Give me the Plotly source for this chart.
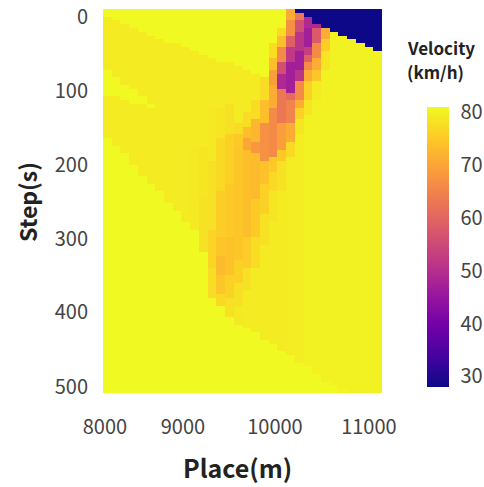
import numpy as np
import plotly.graph_objects as go

# Each column: (end_step, velocity) runs, top to bottom. Steps run 0..500 every 5 s; places 8000..11100 every 100 m.
steps = list(range(0, 505, 5))
places = list(range(8000, 11200, 100))

col_00 = [(10, 81), (78, 79.3), (113, 81), (170, 79.3), (600, 81)]
col_01 = [(15, 81), (88, 79.3), (115, 81), (180, 79.3), (600, 81)]
col_02 = [(20, 81), (98, 79.3), (118, 81), (190, 79.3), (600, 81)]
col_03 = [(25, 81), (105, 79.3), (122, 81), (205, 79.3), (600, 81)]
col_04 = [(28, 81), (115, 79.3), (125, 81), (220, 79.3), (600, 81)]
col_05 = [(32, 81), (125, 79.3), (130, 81), (230, 79.3), (600, 81)]
col_06 = [(37, 81), (240, 79.3), (600, 81)]
col_07 = [(41, 81), (255, 79.3), (600, 81)]
col_08 = [(45, 81), (265, 79.3), (600, 81)]
col_09 = [(50, 81), (280, 79.2), (600, 81)]
col_10 = [(55, 81), (180, 79.3), (290, 79), (600, 81)]
col_11 = [(58, 81), (180, 79.3), (250, 78.5), (317, 78), (600, 81)]
col_12 = [(62, 81), (130, 79.3), (200, 79), (290, 78), (340, 76.5), (376, 77.5), (600, 81)]
col_13 = [(66, 81), (130, 79.3), (170, 78.5), (240, 77), (300, 75.5), (325, 74.5), (350, 73), (375, 74.5), (390, 77), (600, 81)]
col_14 = [(68, 81), (125, 79.3), (165, 78), (230, 76), (300, 75), (350, 74), (380, 76), (403, 78), (600, 81)]
col_15 = [(72, 81), (150, 79.3), (165, 77.5), (180, 75), (260, 74.5), (330, 74.5), (360, 76), (390, 78), (412, 79), (600, 81)]
col_16 = [(76, 81), (135, 79.3), (155, 77.5), (170, 73.5), (185, 70), (300, 73.5), (340, 75.5), (370, 78), (418, 79.3), (600, 81)]
col_17 = [(82, 81), (120, 79.3), (145, 77.5), (175, 72.5), (190, 68), (250, 73), (300, 75), (340, 77.5), (425, 79.3), (600, 81)]
col_18 = [(90, 81), (120, 77.5), (150, 73.5), (197, 67), (230, 74), (270, 76), (310, 78), (433, 79.3), (600, 81)]
col_19 = [(42, 81), (62, 77.5), (80, 73.5), (96, 69), (130, 71), (195, 66), (215, 75), (240, 77), (280, 78.5), (440, 79.3), (600, 81)]
col_20 = [(25, 81), (35, 77.5), (50, 73.5), (68, 66), (85, 56), (103, 49), (150, 63), (181, 69), (200, 75), (240, 78), (446, 79.3), (600, 81)]
col_21 = [(15, 71), (32, 67), (50, 59), (68, 52), (108, 47), (120, 61), (150, 65), (172, 71), (195, 77), (453, 79.3), (600, 81)]
col_22 = [(5, 28), (15, 63), (28, 56), (55, 51), (76, 47), (95, 51), (118, 66), (130, 71), (145, 76), (165, 78.5), (462, 79.5), (600, 81)]
col_23 = [(10, 28), (25, 49), (48, 47), (58, 53), (66, 59), (76, 66), (95, 71), (120, 76), (137, 78.5), (468, 80), (600, 81)]
col_24 = [(20, 28), (25, 49), (45, 58), (62, 66), (76, 71), (95, 74.5), (120, 79.3), (478, 80), (600, 81)]
col_25 = [(25, 28), (40, 71), (55, 75.5), (76, 78.5), (486, 80), (600, 81)]
col_26 = [(30, 28), (495, 80), (600, 81)]
col_27 = [(35, 28), (500, 80), (600, 80.5)]
col_28 = [(40, 28), (600, 80)]
col_29 = [(45, 28), (600, 80)]
col_30 = [(50, 28), (600, 80)]
col_31 = [(55, 28), (600, 80)]

columns = [col_00, col_01, col_02, col_03, col_04, col_05, col_06, col_07,
           col_08, col_09, col_10, col_11, col_12, col_13, col_14, col_15,
           col_16, col_17, col_18, col_19, col_20, col_21, col_22, col_23,
           col_24, col_25, col_26, col_27, col_28, col_29, col_30, col_31]

x_tick_labels = ["8000", "9000", "10000", "11000"]
x_tick_positions = [7972, 8867, 9922, 11000]
y_tick_labels = ["0", "100", "200", "300", "400", "500"]
y_tick_positions = [8, 105, 203, 300, 396, 494]


def expand(runs):
    out = []
    for s in steps:
        out.append(next(v for end, v in runs if s < end))
    return out


z = np.array([expand(c) for c in columns]).T

FONT = "Noto Sans CJK JP"
INK = "#444444"
PLOT_W, PLOT_H = 279, 384

fig = go.Figure(go.Heatmap(
    x=places, y=steps, z=z, zmin=28, zmax=81, colorscale="Plasma",
    zsmooth=False,
    colorbar=dict(
        thickness=22, len=280, lenmode="pixels",
        x=(427 - 103) / PLOT_W, xanchor="left", y=(393 - 107) / PLOT_H, yanchor="top",
        outlinewidth=0, ticks="outside", ticklen=8, tickcolor="rgba(0,0,0,0)", xpad=0, ypad=0,
        tickvals=[30, 40, 50, 60, 70, 80],
        tickfont=dict(family=FONT, size=20, color=INK),
    ),
))

fig.update_layout(
    width=484, height=487, autosize=False,
    margin=dict(l=103, r=102, t=9, b=94, autoexpand=False),
    paper_bgcolor="white", plot_bgcolor="white",
    font=dict(family=FONT, color=INK),
    xaxis=dict(range=[7950, 11150], tickvals=x_tick_positions, ticktext=x_tick_labels,
               ticks="outside", ticklen=16, tickcolor="rgba(0,0,0,0)", showgrid=False, zeroline=False,
               tickfont=dict(family=FONT, size=20, color=INK), showline=False),
    yaxis=dict(range=[502.5, -2.5], tickvals=y_tick_positions, ticktext=y_tick_labels,
               ticks="outside", ticklen=10, tickcolor="rgba(0,0,0,0)", showgrid=False, zeroline=False,
               tickfont=dict(family=FONT, size=20, color=INK), showline=False),
    annotations=[
        dict(text="<b>Place(m)</b>", xref="paper", yref="paper", x=(237 - 103) / PLOT_W, y=-74 / PLOT_H,
             xanchor="center", yanchor="middle", showarrow=False,
             font=dict(family=FONT, size=25, color="#222222")),
        dict(text="<b>Step(s)</b>", xref="paper", yref="paper", x=(27 - 103) / PLOT_W, y=(393 - 202) / PLOT_H,
             xanchor="center", yanchor="middle", textangle=-90, showarrow=False,
             font=dict(family=FONT, size=23, color="#222222")),
        dict(text="<b>Velocity</b>", xref="paper", yref="paper", x=(405 - 103) / PLOT_W, y=(393 - 47) / PLOT_H,
             xanchor="left", yanchor="middle", align="left", showarrow=False,
             font=dict(family=FONT, size=17, color="#222222")),
        dict(text="<b>(km/h)</b>", xref="paper", yref="paper", x=(405 - 103) / PLOT_W, y=(393 - 71) / PLOT_H,
             xanchor="left", yanchor="middle", align="left", showarrow=False,
             font=dict(family=FONT, size=17, color="#222222")),
    ],
)

fig.write_html("out.html", config=dict(displayModeBar=False), post_script="document.body.style.margin='0';")
